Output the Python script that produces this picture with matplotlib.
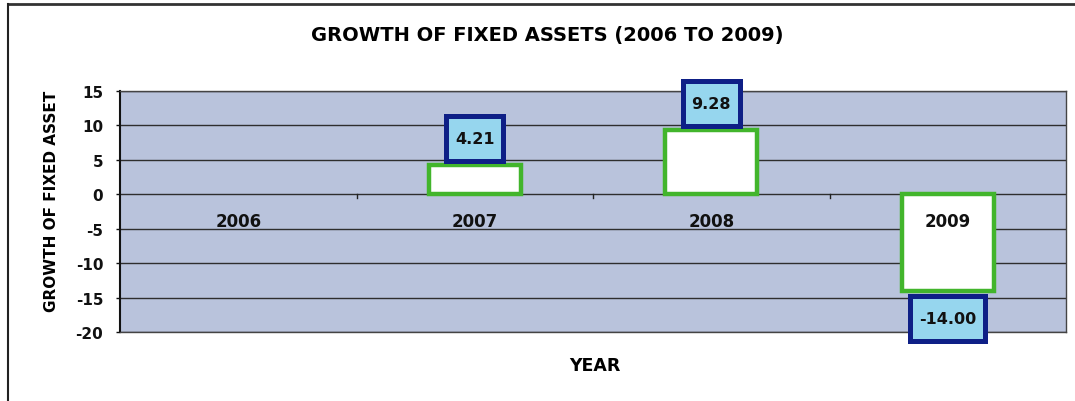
import matplotlib
matplotlib.use("Agg")
import matplotlib.pyplot as plt
from matplotlib.lines import Line2D
from matplotlib.path import Path

plt.rcParams['font.family'] = ['DejaVu Sans']

years = ["2006", "2007", "2008", "2009"]
growth = [None, 4.21, 9.28, -14.00]
y_ticks = [15, 10, 5, 0, -5, -10, -15, -20]


def callout_box(x0, y0, width, height, mutation_size):
    """Rectangle with more padding above/below the text than at the sides."""
    px = 0.55 * mutation_size
    py = 0.95 * mutation_size
    x1, y1 = x0 + width + px, y0 + height + py
    xa, ya = x0 - px, y0 - py
    return Path([(xa, ya), (x1, ya), (x1, y1), (xa, y1), (xa, ya)],
                closed=True)


fig = plt.figure(figsize=(10.75, 4.02), dpi=100)
ax = fig.add_axes([120 / 1075, 1 - 333 / 402, 946 / 1075, 241 / 402])

ax.set_facecolor("#b9c3dc")
ax.set_xlim(-0.5, len(years) - 0.5)
ax.set_ylim(-20, 15)

for y in y_ticks:
    ax.axhline(y, color="#2e2e2e", lw=1.0, zorder=1)

xs = [i for i, v in enumerate(growth) if v is not None]
vals = [v for v in growth if v is not None]
ax.bar(xs, vals, width=0.39, color="white", edgecolor="#42b52c",
       linewidth=3.2, zorder=3)

# value labels in boxed callouts
for x, v in zip(xs, vals):
    off = 19.5 if v > 0 else -20
    ax.annotate(f"{v:.2f}", (x, v), xytext=(0, off), textcoords="offset points",
                ha="center", va="center", fontsize=11.5, fontweight="bold",
                color="#111111", zorder=5, annotation_clip=False,
                bbox=dict(boxstyle=callout_box, fc="#96d6ee",
                          ec="#0e1f86", lw=3.6))

# category labels along the zero line
for i, name in enumerate(years):
    ax.annotate(name, (i, 0), xytext=(0, -19.5),
                textcoords="offset points", ha="center", va="center",
                fontsize=12, fontweight="bold", color="#111111", zorder=6)

# small ticks on the zero line at category boundaries
for b in range(1, len(years)):
    ax.plot([b - 0.5, b - 0.5], [0, -0.6], color="#222222", lw=1, zorder=2)

ax.set_xticks([])
ax.set_yticks(y_ticks)
ax.set_yticklabels([str(t) for t in y_ticks], fontsize=11, fontweight="bold")
ax.tick_params(axis="y", length=3, width=1, pad=9, colors="#111111")
for s in ax.spines.values():
    s.set_color("#444444")
    s.set_linewidth(1)
ax.spines["left"].set_color("#111111")
ax.spines["left"].set_linewidth(1.5)

ax.set_ylabel("GROWTH OF FIXED ASSET", fontsize=11, fontweight="bold")
ax.yaxis.set_label_coords(-61 / 946, 0.546)

fig.text(595 / 1075, 1 - 366 / 402, "YEAR", ha="center", va="center",
         fontsize=12.5, fontweight="bold")
fig.text(547 / 1075, 1 - 35 / 402, "GROWTH OF FIXED ASSETS (2006 TO 2009)",
         ha="center", va="center", fontsize=14, fontweight="bold")

# outer frame edges
fig.add_artist(Line2D([8 / 1075, 1], [1 - 5 / 402] * 2, color="#333333",
                      lw=2, transform=fig.transFigure))
fig.add_artist(Line2D([8 / 1075] * 2, [0, 1 - 5 / 402], color="#222222",
                      lw=1.5, transform=fig.transFigure))

fig.savefig("out.png", dpi=100)
